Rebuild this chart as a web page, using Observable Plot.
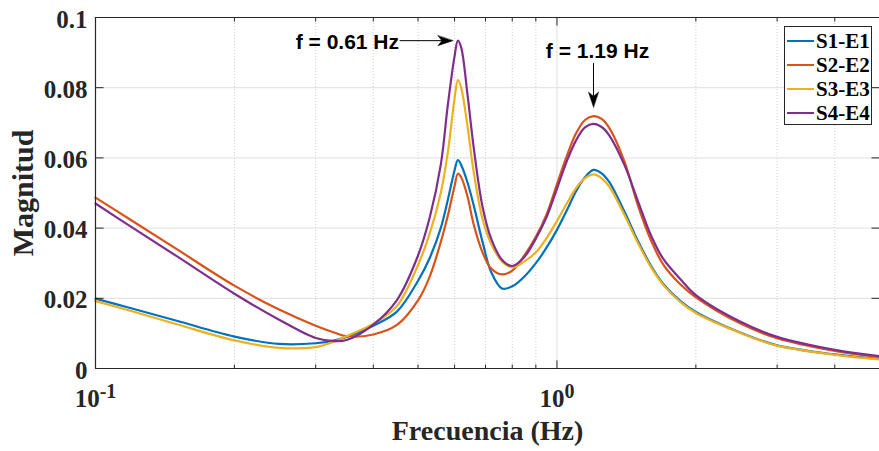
<!DOCTYPE html>
<html>
<head>
<meta charset="utf-8">
<script src="https://cdn.jsdelivr.net/npm/d3@7"></script>
<script src="https://cdn.jsdelivr.net/npm/@observablehq/plot@0.6"></script>
<style>
  body { margin: 0; background: #fff; }
  #wrap { position: relative; width: 879px; height: 451px; overflow: hidden; }
  #legend { position: absolute; left: 784px; top: 26px; width: 88px; height: 99px; box-sizing: border-box;
    border: 1px solid #262626; background: #fff; padding-top: 2px;
    font: bold 21px "Liberation Serif", serif; color: #000; }
  #legend .row { display: flex; align-items: center; height: 24px; }
  #legend .sw { width: 27px; height: 2px; margin-left: 2px; margin-right: 2px; }
</style>
</head>
<body>
<div id="wrap"><div id="legend"></div></div>
<script>
// ---- data ----
const freq = [0.1, 0.12, 0.15, 0.2, 0.25, 0.3, 0.33, 0.35, 0.4, 0.45, 0.5, 0.53, 0.56, 0.58, 0.6, 0.61, 0.62, 0.64, 0.66, 0.69, 0.72, 0.76, 0.8, 0.85, 0.9, 0.95, 1.0, 1.05, 1.1, 1.15, 1.2, 1.25, 1.3, 1.4, 1.5, 1.6, 1.7, 1.85, 2.0, 2.5, 3, 4, 5];
const s1e1 = [0.0199, 0.0171, 0.0136, 0.0091, 0.0070, 0.0072, 0.0080, 0.0090, 0.0122, 0.0162, 0.0250, 0.0315, 0.0400, 0.0480, 0.0565, 0.0594, 0.0580, 0.0530, 0.0465, 0.0360, 0.0275, 0.0228, 0.0234, 0.0262, 0.0300, 0.0345, 0.0395, 0.0450, 0.0505, 0.0545, 0.0566, 0.0556, 0.0530, 0.0447, 0.0362, 0.0292, 0.0241, 0.0193, 0.0161, 0.0102, 0.0066, 0.0040, 0.0027];
const s2e2 = [0.0487, 0.0421, 0.0340, 0.0236, 0.0168, 0.0122, 0.0102, 0.0092, 0.0097, 0.0124, 0.0194, 0.0262, 0.0360, 0.0435, 0.0520, 0.0555, 0.0545, 0.0490, 0.0410, 0.0330, 0.0285, 0.0268, 0.0279, 0.0322, 0.0375, 0.0440, 0.0525, 0.0605, 0.0670, 0.0708, 0.0719, 0.0711, 0.0684, 0.0590, 0.0462, 0.0364, 0.0296, 0.0240, 0.0203, 0.0128, 0.0086, 0.0050, 0.0032];
const s3e3 = [0.0192, 0.0163, 0.0126, 0.0080, 0.0059, 0.0061, 0.0077, 0.0092, 0.0128, 0.0178, 0.0295, 0.0385, 0.0500, 0.0615, 0.0770, 0.0822, 0.0800, 0.0690, 0.0560, 0.0425, 0.0355, 0.0305, 0.0288, 0.0305, 0.0331, 0.0372, 0.0420, 0.0470, 0.0514, 0.0542, 0.0553, 0.0542, 0.0517, 0.0438, 0.0356, 0.0288, 0.0238, 0.0190, 0.0158, 0.0101, 0.0065, 0.0039, 0.0026];
const s4e4 = [0.0470, 0.0402, 0.0320, 0.0213, 0.0139, 0.0087, 0.0078, 0.0081, 0.0125, 0.0195, 0.0322, 0.0430, 0.0580, 0.0750, 0.0890, 0.0934, 0.0915, 0.0780, 0.0630, 0.0460, 0.0370, 0.0310, 0.0292, 0.0318, 0.0370, 0.0432, 0.0512, 0.0590, 0.0650, 0.0687, 0.0697, 0.0688, 0.0663, 0.0580, 0.0475, 0.0378, 0.0312, 0.0255, 0.0209, 0.0133, 0.0090, 0.0053, 0.0035];

const seriesNames = ["S1-E1", "S2-E2", "S3-E3", "S4-E4"];
const seriesValues = [s1e1, s2e2, s3e3, s4e4];
const seriesColors = ["#0072BD", "#D95319", "#EDB120", "#7E2F8E"];

const xDomain = [0.1, 5];
const yDomain = [0, 0.1];
const yTicks = [0, 0.02, 0.04, 0.06, 0.08, 0.1];
const yTickLabels = ["0", "0.02", "0.04", "0.06", "0.08", "0.1"];
const xMajorTicks = [0.1, 1];
const xMajorExponents = ["-1", "0"];
const xMinorTicks = [0.2, 0.3, 0.4, 0.5, 0.6, 0.7, 0.8, 0.9, 2, 3, 4];

// annotations: label, series whose peak is marked, frequency window of the peak, arrow tail
const annotLabels = ["f = 0.61 Hz", "f = 1.19 Hz"];
const annotSeries = [3, 1];
const annotWindow = [[0.5, 0.8], [0.9, 2]];
const annotTailF = [0.457, null];   // horizontal arrow: tail frequency
const annotTailV = [null, 0.0869];  // vertical arrow: tail magnitude

// ---- build tables ----
const rows = seriesNames.flatMap((name, i) => freq.map((f, j) => ({name, f, v: seriesValues[i][j]})));

const annots = annotLabels.map((label, k) => {
  const vals = seriesValues[annotSeries[k]];
  let best = -1;
  freq.forEach((f, j) => {
    if (f >= annotWindow[k][0] && f <= annotWindow[k][1] && (best < 0 || vals[j] > vals[best])) best = j;
  });
  const pf = freq[best], pv = vals[best];
  const horizontal = annotTailF[k] != null;
  return {label, pf, pv, horizontal,
    tf: horizontal ? annotTailF[k] : pf,
    tv: horizontal ? pv : annotTailV[k]};
});
const hAnn = annots.filter(a => a.horizontal);
const vAnn = annots.filter(a => !a.horizontal);

const axisColor = "#262626";
const tickShape = {draw(ctx, l) { ctx.moveTo(0, 0); ctx.lineTo(0, -l); }};
const headShape = {draw(ctx, l) { ctx.moveTo(0, -l); ctx.lineTo(5, 0); ctx.lineTo(0, -4); ctx.lineTo(-5, 0); ctx.closePath(); }};

function ticks(data, xf, yf, rot, len) {
  return Plot.vector(data, {x: xf, y: yf, rotate: rot, length: len, anchor: "start", shape: tickShape,
    stroke: axisColor, strokeWidth: 1, strokeLinecap: "butt"});
}

const annFont = "'Liberation Sans', Arial, sans-serif";

const svg = Plot.plot({
  width: 879, height: 451,
  marginLeft: 95, marginRight: 0, marginTop: 17, marginBottom: 83,
  style: {fontFamily: "'Liberation Serif', serif", fontWeight: "bold", color: axisColor, background: "#fff"},
  x: {type: "log", domain: xDomain},
  y: {domain: yDomain},
  color: {domain: seriesNames, range: seriesColors},
  marks: [
    // grid
    Plot.ruleX(xMinorTicks, {stroke: "#cfcfcf", strokeDasharray: "1,2", strokeWidth: 1}),
    Plot.ruleX([1], {stroke: "#dfdfdf", strokeWidth: 1}),
    Plot.ruleY(yTicks.filter(d => d > yDomain[0] && d < yDomain[1]), {stroke: "#dfdfdf", strokeWidth: 1}),
    // series
    Plot.line(rows, {x: "f", y: "v", z: "name", stroke: "name", strokeWidth: 2.2, curve: "catmull-rom"}),
    // box
    Plot.ruleX([xDomain[0]], {stroke: axisColor, strokeWidth: 1.2}),
    Plot.ruleY([yDomain[0], yDomain[1]], {stroke: axisColor, strokeWidth: 1.2}),
    // inward ticks
    ticks(yTicks, () => xDomain[0], d => d, 90, 8),
    ticks(yTicks, () => xDomain[1], d => d, 270, 8),
    ticks(xMajorTicks, d => d, () => yDomain[0], 0, 8),
    ticks(xMinorTicks, d => d, () => yDomain[0], 0, 4),
    ticks(xMajorTicks, d => d, () => yDomain[1], 180, 8),
    ticks(xMinorTicks, d => d, () => yDomain[1], 180, 4),
    // tick labels
    Plot.axisY({ticks: yTicks, tickSize: 0, tickPadding: 8, fontSize: 25, dy: 2,
      tickFormat: d => yTickLabels[yTicks.indexOf(d)], label: null}),
    Plot.axisX({ticks: xMajorTicks, tickSize: 0, tickPadding: 21, fontSize: 25,
      tickFormat: d => "10^" + xMajorExponents[xMajorTicks.indexOf(d)], label: null}),
    // axis titles
    Plot.text(["Frecuencia (Hz)"], {frameAnchor: "bottom", text: d => d, textAnchor: "middle", lineAnchor: "middle",
      dy: 63, fontSize: 28, fontWeight: "bold", fill: axisColor}),
    Plot.text(["Magnitud"], {frameAnchor: "left", text: d => d, rotate: -90, textAnchor: "middle", lineAnchor: "middle",
      dx: -72, fontSize: 30, fontWeight: "bold", fill: axisColor}),
    // annotations
    Plot.arrow(annots, {x1: "tf", y1: "tv", x2: "pf", y2: "pv", headLength: 0, insetEnd: 12, stroke: "#000", strokeWidth: 1}),
    Plot.vector(hAnn, {x: "pf", y: "pv", rotate: 90, length: 15, anchor: "end", shape: headShape, dx: -5, fill: "#000", stroke: "#000", strokeWidth: 0.5}),
    Plot.vector(vAnn, {x: "pf", y: "pv", rotate: 180, length: 15, anchor: "end", shape: headShape, dy: -9, fill: "#000", stroke: "#000", strokeWidth: 0.5}),
    Plot.text(hAnn, {x: "tf", y: "tv", text: "label", textAnchor: "end", lineAnchor: "middle", dx: -1, dy: 2, fontSize: 21,
      fontFamily: annFont, fontWeight: "bold", fill: "#000"}),
    Plot.text(vAnn, {x: "tf", y: "tv", text: "label", textAnchor: "middle", lineAnchor: "middle", dx: 4, dy: -12, fontSize: 21,
      fontFamily: annFont, fontWeight: "bold", fill: "#000"})
  ]
});

// superscript exponents in x tick labels
svg.querySelectorAll('g[aria-label="x-axis tick label"] text').forEach(t => {
  const parts = t.textContent.split("^");
  if (parts.length < 2) return;
  t.textContent = parts[0];
  const ts = document.createElementNS("http://www.w3.org/2000/svg", "tspan");
  ts.setAttribute("dy", "-9");
  ts.setAttribute("font-size", "20");
  ts.textContent = parts[1];
  t.appendChild(ts);
});

const wrap = document.getElementById("wrap");
wrap.insertBefore(svg, wrap.firstChild);

// legend
const legend = document.getElementById("legend");
seriesNames.forEach((name, i) => {
  const row = document.createElement("div");
  row.className = "row";
  const sw = document.createElement("span");
  sw.className = "sw";
  sw.style.background = seriesColors[i];
  const lab = document.createElement("span");
  lab.textContent = name;
  row.appendChild(sw); row.appendChild(lab);
  legend.appendChild(row);
});
</script>
</body>
</html>
